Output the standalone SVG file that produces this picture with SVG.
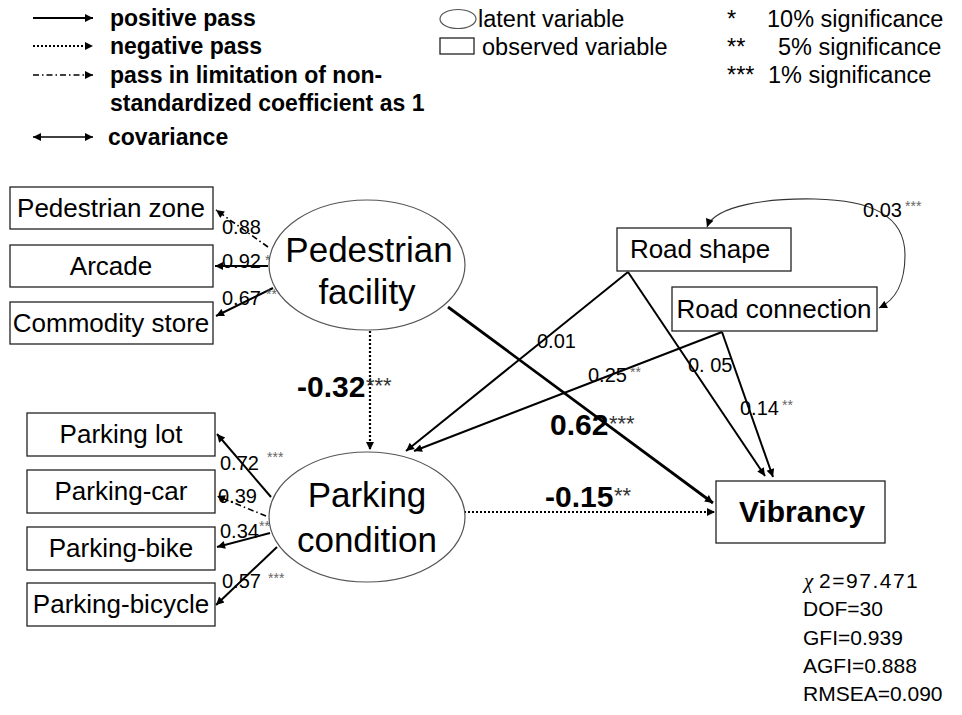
<svg xmlns="http://www.w3.org/2000/svg" width="962" height="715" viewBox="0 0 962 715">
  <style>
    text { font-family: "Liberation Sans", Arial, sans-serif; fill: #000; }
    .leg { font-size: 23px; font-weight: bold; }
    .legr { font-size: 23.5px; }
    .box { fill: #fff; stroke: #222; stroke-width: 1.3; }
    .ell { fill: #fff; stroke: #555; stroke-width: 1.2; }
    .btxt { font-size: 26px; text-anchor: middle; }
    .etxt { font-size: 35px; text-anchor: middle; }
    .lbl { font-size: 20px; }
    .big { font-size: 30px; font-weight: bold; }
    .st { font-size: 14px; fill: #666; }
    .stb { font-size: 22px; fill: #333; }
    .stat { font-size: 21px; }
    .solid { fill: none; stroke: #000; stroke-width: 2; marker-end: url(#ah); }
    .thick { fill: none; stroke: #000; stroke-width: 2.8; marker-end: url(#ah); }
    .dot { fill: none; stroke: #000; stroke-width: 2.2; stroke-dasharray: 2 2; marker-end: url(#ah); }
    .dashdot { fill: none; stroke: #000; stroke-width: 1.6; stroke-dasharray: 6 3 1.5 3; marker-end: url(#ah); }
    .cov { fill: none; stroke: #333; stroke-width: 1.1; marker-start: url(#ahs); marker-end: url(#ahs); }
  </style>
  <defs>
    <marker id="ah" viewBox="0 0 10 10" refX="10" refY="5" markerWidth="10" markerHeight="8" markerUnits="userSpaceOnUse" orient="auto">
      <path d="M0,0 L10,5 L0,10 z" fill="#000"/>
    </marker>
    <marker id="ahs" viewBox="0 0 10 10" refX="10" refY="5" markerWidth="9" markerHeight="8" markerUnits="userSpaceOnUse" orient="auto-start-reverse">
      <path d="M0,0 L10,5 L0,10 z" fill="#000"/>
    </marker>
  </defs>

  <!-- legend: line styles -->
  <g id="legend-lines">
    <line x1="33" y1="18" x2="93" y2="18" class="solid" stroke-width="1.6"/>
    <text x="110" y="26" class="leg">positive pass</text>
    <line x1="33" y1="46" x2="93" y2="46" class="dot" stroke-width="1.6"/>
    <text x="110" y="54" class="leg">negative pass</text>
    <line x1="33" y1="75" x2="93" y2="75" class="dashdot"/>
    <text x="110" y="83" class="leg">pass in limitation of non-</text>
    <text x="110" y="111" class="leg">standardized coefficient as 1</text>
    <line x1="33" y1="137" x2="93" y2="137" fill="none" stroke="#000" stroke-width="1.6" marker-start="url(#ahs)" marker-end="url(#ahs)"/>
    <text x="108" y="145" class="leg">covariance</text>
  </g>

  <!-- legend: node shapes -->
  <g id="legend-shapes">
    <ellipse cx="458" cy="19" rx="18" ry="9.5" class="ell"/>
    <text x="478" y="27" class="legr">latent variable</text>
    <rect x="440" y="38" width="34" height="16" class="box"/>
    <text x="482" y="55" class="legr">observed variable</text>
  </g>

  <!-- legend: significance -->
  <g id="legend-significance">
    <text x="727" y="27" class="legr">*</text>
    <text x="767" y="27" class="legr">10% significance</text>
    <text x="727" y="55" class="legr">**</text>
    <text x="778" y="55" class="legr">5% significance</text>
    <text x="727" y="83" class="legr">***</text>
    <text x="768" y="83" class="legr">1% significance</text>
  </g>

  <!-- connectors -->
  <g id="connectors">
    <!-- pedestrian facility indicators -->
    <line x1="268" y1="247" x2="216" y2="210" class="dashdot"/>
    <line x1="268" y1="266" x2="215" y2="266" class="solid"/>
    <line x1="273" y1="288" x2="216" y2="316" class="solid"/>
    <!-- parking condition indicators -->
    <line x1="271" y1="497" x2="217" y2="434" class="solid"/>
    <line x1="266" y1="516" x2="217" y2="496" class="dashdot"/>
    <line x1="270" y1="533" x2="217" y2="547" class="solid"/>
    <line x1="277" y1="547" x2="216" y2="605" class="solid"/>
    <!-- structural paths -->
    <line x1="370" y1="331" x2="370" y2="450" class="dot"/>
    <line x1="448" y1="307" x2="713" y2="503" class="thick"/>
    <line x1="464" y1="512" x2="715" y2="512" class="dot"/>
    <line x1="628" y1="272" x2="406" y2="451" class="solid"/>
    <line x1="722" y1="332" x2="414" y2="451" class="solid"/>
    <line x1="628" y1="272" x2="765" y2="476" class="solid"/>
    <line x1="722" y1="332" x2="773" y2="477" class="solid"/>
    <!-- covariance between road variables -->
    <path d="M707,227 C715,205 770,198 815,199 C870,200 905,215 905,255 C905,285 895,300 879,308" class="cov"/>
  </g>

  <!-- path coefficients -->
  <g id="coefficients">
    <text x="222" y="234" class="lbl">0.88</text>
    <text x="222" y="268" class="lbl">0.92</text><text x="265" y="265" class="st">***</text>
    <text x="222" y="305" class="lbl">0.67</text><text x="266" y="299" class="st">***</text>
    <text x="220" y="470" class="lbl">0.72</text><text x="267" y="462" class="st">***</text>
    <text x="218" y="503" class="lbl">0.39</text>
    <text x="220" y="538" class="lbl">0.34</text><text x="259" y="531" class="st">***</text>
    <text x="222" y="588" class="lbl">0.57</text><text x="268" y="583" class="st">***</text>
    <text x="297" y="397" class="big">-0.32</text><text x="366" y="393" class="stb">***</text>
    <text x="550" y="435" class="big">0.62</text><text x="609" y="431" class="stb">***</text>
    <text x="545" y="507" class="big">-0.15</text><text x="614" y="503" class="stb">**</text>
    <text x="537" y="348" class="lbl">0.01</text>
    <text x="588" y="382" class="lbl">0.25</text><text x="630" y="377" class="st">**</text>
    <text x="688" y="372" class="lbl">0. 05</text>
    <text x="740" y="415" class="lbl">0.14</text><text x="782" y="410" class="st">**</text>
    <text x="863" y="217" class="lbl">0.03</text><text x="905" y="211" class="st">***</text>
  </g>

  <!-- observed variables -->
  <g id="pedestrian-zone"><rect x="10" y="187" width="203" height="42" class="box"/><text x="111" y="217" class="btxt">Pedestrian zone</text></g>
  <g id="arcade"><rect x="10" y="245" width="203" height="42" class="box"/><text x="111" y="275" class="btxt">Arcade</text></g>
  <g id="commodity-store"><rect x="10" y="302" width="203" height="42" class="box"/><text x="111" y="332" class="btxt">Commodity store</text></g>

  <g id="parking-lot"><rect x="27" y="413" width="188" height="43" class="box"/><text x="121" y="443" class="btxt">Parking lot</text></g>
  <g id="parking-car"><rect x="27" y="470" width="188" height="43" class="box"/><text x="121" y="500" class="btxt">Parking-car</text></g>
  <g id="parking-bike"><rect x="27" y="527" width="188" height="43" class="box"/><text x="121" y="557" class="btxt">Parking-bike</text></g>
  <g id="parking-bicycle"><rect x="27" y="583" width="188" height="43" class="box"/><text x="121" y="613" class="btxt">Parking-bicycle</text></g>

  <g id="road-shape"><rect x="617" y="228" width="174" height="43" class="box"/><text x="700" y="258" class="btxt">Road shape</text></g>
  <g id="road-connection"><rect x="672" y="287" width="205" height="44" class="box"/><text x="774" y="318" class="btxt">Road connection</text></g>

  <g id="vibrancy"><rect x="716" y="481" width="169" height="62" class="box"/><text x="802" y="522" font-size="30" font-weight="bold" text-anchor="middle">Vibrancy</text></g>

  <!-- latent variables -->
  <g id="pedestrian-facility">
    <ellipse cx="367" cy="265" rx="98" ry="65" class="ell"/>
    <text x="369" y="262" class="etxt">Pedestrian</text>
    <text x="367" y="304" class="etxt">facility</text>
  </g>
  <g id="parking-condition">
    <ellipse cx="367" cy="517" rx="98" ry="65" class="ell"/>
    <text x="367" y="507" class="etxt">Parking</text>
    <text x="367" y="552" class="etxt">condition</text>
  </g>

  <!-- model fit -->
  <g id="fit-indices">
    <text x="804" y="588" class="stat"><tspan font-family="Liberation Serif, serif" font-style="italic">χ</tspan> <tspan letter-spacing="1.5">2=97.471</tspan></text>
    <text x="803" y="616" class="stat">DOF=30</text>
    <text x="803" y="645" class="stat">GFI=0.939</text>
    <text x="803" y="673" class="stat">AGFI=0.888</text>
    <text x="803" y="701" class="stat">RMSEA=0.090</text>
  </g>
</svg>
